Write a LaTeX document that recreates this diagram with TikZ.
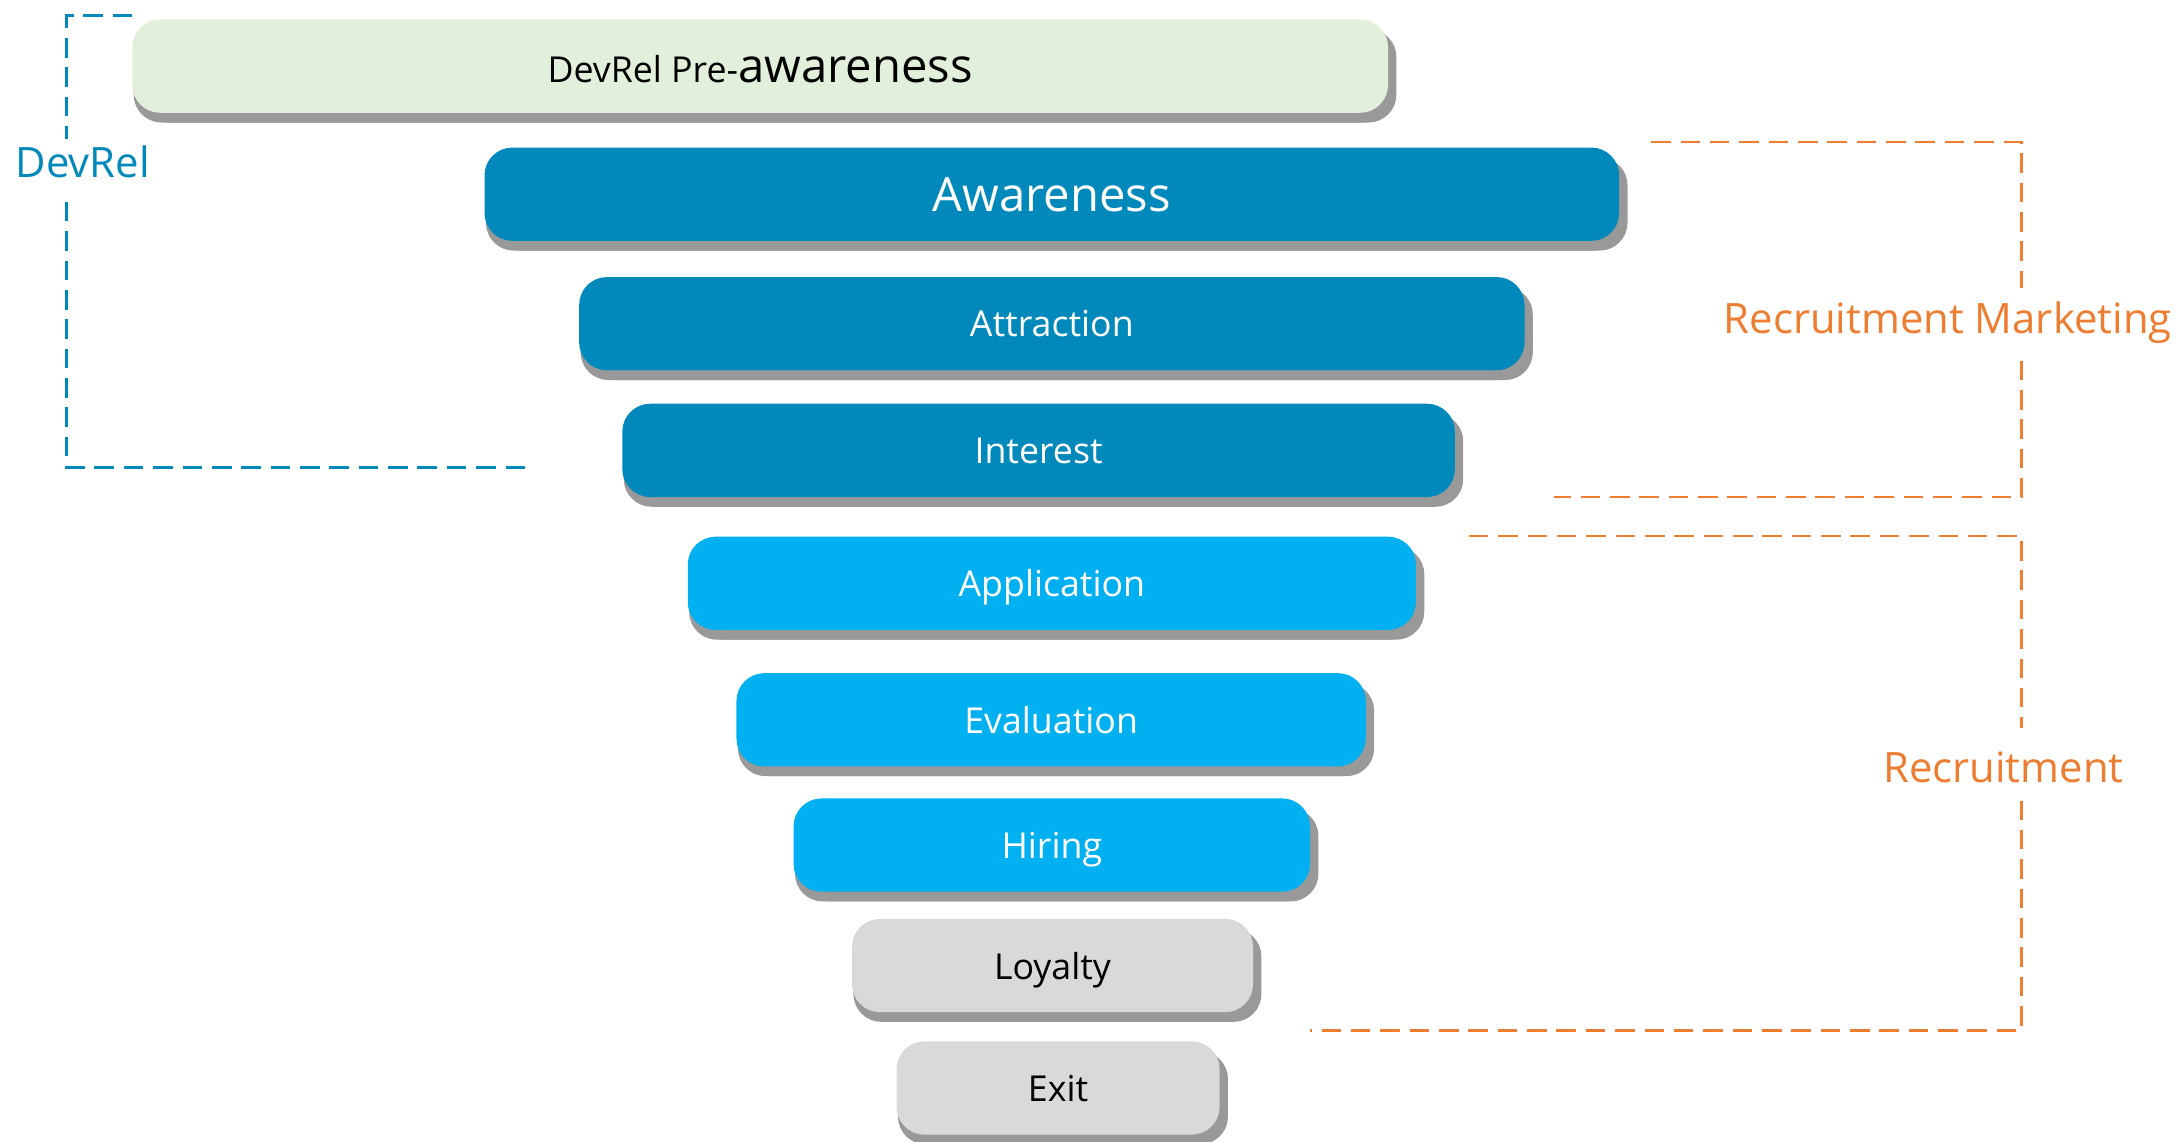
\documentclass[tikz,border=0pt]{standalone}
\usepackage{fontspec}
\setmainfont{Open Sans}
\usetikzlibrary{shadows}
\definecolor{devblue}{RGB}{0,137,186}
\definecolor{stageblue}{RGB}{0,176,240}
\definecolor{pregreen}{RGB}{226,239,218}
\definecolor{stagegray}{RGB}{217,217,217}
\definecolor{shadowgray}{RGB}{153,153,153}
\definecolor{recorange}{RGB}{237,125,49}
\newcommand\stagetxt{\fontsize{7.3pt}{8.8pt}\selectfont}
\newcommand\bigtxt{\fontsize{9.65pt}{11.5pt}\selectfont}
\newcommand\labeltxt{\fontsize{8.55pt}{10pt}\selectfont}

\begin{document}
\begin{tikzpicture}[
    stagebox/.style={rectangle, rounded corners=0.2cm, minimum height=0.67cm, inner sep=0pt, text depth=0pt, font=\stagetxt,
        general shadow={shadow xshift=0.01cm, shadow yshift=-0.07cm, fill=shadowgray},
        general shadow={shadow xshift=0.06cm, shadow yshift=-0.07cm, fill=shadowgray}},
    bracket/.style={dash pattern=on 4pt off 2pt, line width=0.6pt},
    side label/.style={inner sep=0pt, font=\labeltxt}
]

\useasboundingbox (0,0) rectangle (15.68,-8.20);

% funnel stages
\node[stagebox, minimum width=9.02cm, fill=pregreen, text height=6.6pt] (pre) at (5.46,-0.475) {DevRel Pre-{\bigtxt awareness}};

\foreach \name/\txt/\cx/\cy/\boxw/\col/\tcol in {
    aware/{\bigtxt Awareness}/7.555/-1.395/8.15/devblue/white,
    attract/Attraction/7.555/-2.325/6.79/devblue/white,
    interest/Interest/7.46/-3.235/5.98/devblue/white,
    apply/Application/7.555/-4.19/5.23/stageblue/white,
    evaluate/Evaluation/7.55/-5.17/4.52/stageblue/white,
    hire/Hiring/7.555/-6.07/3.71/stageblue/white,
    loyal/Loyalty/7.56/-6.935/2.88/stagegray/black,
    exit/Exit/7.60/-7.815/2.32/stagegray/black} {
    \node[stagebox, minimum width=\boxw cm, fill=\col, text=\tcol] (\name) at (\cx,\cy) {\txt};
}

% DevRel bracket
\draw[bracket, devblue] (0.95,-0.11) -- (0.48,-0.11) -- (0.48,-1.00)
    (0.48,-1.45) -- (0.48,-3.36) -- (3.82,-3.36);
\node[side label, text=devblue] (devrel) at (0.595,-1.16) {DevRel};

% recruitment marketing bracket
\draw[bracket, recorange] (11.86,-1.02) -- (14.52,-1.02) -- (14.52,-2.07)
    (14.52,-2.59) -- (14.52,-3.57) -- (11.16,-3.57);
\node[side label, text=recorange] (marketing) at (13.99,-2.32) {Recruitment Marketing};

% recruitment bracket
\draw[bracket, recorange] (10.55,-3.85) -- (14.52,-3.85) -- (14.52,-5.23)
    (14.52,-5.75) -- (14.52,-7.40) -- (9.41,-7.40);
\node[side label, text=recorange] (recruit) at (14.39,-5.51) {Recruitment};

\end{tikzpicture}
\end{document}
